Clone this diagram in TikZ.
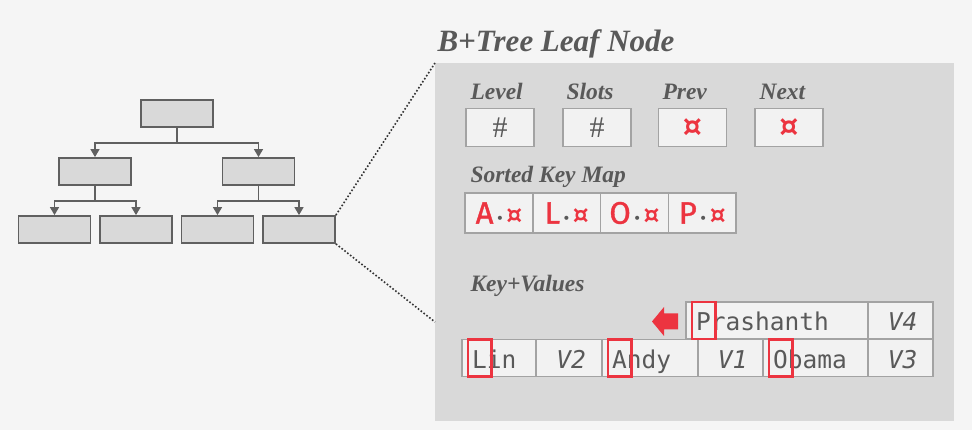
\documentclass[tikz,border=0pt]{standalone}
\usepackage{fontspec}
\setmainfont{Liberation Serif}
\setmonofont{DejaVu Sans Mono}
\newfontfamily\mapfont{DejaVu Sans}
\newfontfamily\keyfont[FakeBold=1.2]{Fira Sans}
\usepackage{xcolor}
\usetikzlibrary{arrows.meta,positioning}

\definecolor{bggray}{HTML}{F5F5F5}
\definecolor{panelgray}{HTML}{D9D9D9}
\definecolor{treegray}{HTML}{606060}
\definecolor{cellfill}{HTML}{F2F2F2}
\definecolor{cellborder}{HTML}{A3A3A3}
\definecolor{textgray}{HTML}{595959}
\definecolor{keyred}{HTML}{EC3440}

\tikzset{
  treebox/.style={draw=treegray,fill=panelgray,line width=1.8pt,
    minimum width=72pt,minimum height=27pt,inner sep=0pt},
  treeline/.style={draw=treegray,line width=1.5pt,
    -{Triangle[width=9pt,length=8pt]}},
  zoomline/.style={draw=black!80,line width=1.6pt,dotted},
  hdrlabel/.style={anchor=base west,text=textgray,
    font=\fontsize{23.5}{24}\selectfont\bfseries\itshape},
  hdrbox/.style={draw=cellborder,fill=cellfill,line width=1.8pt,
    minimum width=68pt,minimum height=38pt,inner sep=0pt},
  mapcell/.style={draw=cellborder,fill=cellfill,line width=1.6pt,
    minimum width=67.75pt,minimum height=40pt,inner sep=0pt,outer sep=0pt},
  kvcell/.style={draw=cellborder,fill=cellfill,line width=1.6pt,
    minimum height=37pt,inner ysep=0pt,outer sep=0pt,
    text height=20pt,text depth=0pt,text=textgray,
    font=\ttfamily\fontsize{24.5}{25}\selectfont},
  keycell/.style={kvcell,inner xsep=10pt,text width=#1-20pt,align=left},
  valcell/.style={kvcell,inner sep=0pt,minimum width=#1,
    font=\ttfamily\itshape\fontsize{24.5}{25}\selectfont},
  hlbox/.style={draw=keyred,line width=2.4pt},
}

\newcommand\ptrmark[1]{{\mapfont\bfseries\color{keyred}\fontsize{#1}{#1}\selectfont ¤}}
\newcommand\mapentry[1]{{\keyfont\color{keyred}\fontsize{31}{31}\selectfont #1}%
  {\mapfont\color{textgray}\fontsize{14}{14}\selectfont\,•\,}%
  \ptrmark{25}}

\begin{document}
\begin{tikzpicture}[x=1pt,y=-1pt]
  \useasboundingbox (0,0) rectangle (972,430);
  \fill[bggray] (0,0) rectangle (972,430);

  % small tree on the left
  \node[treebox] (root) at (177,113.5) {};
  \node[treebox] (midL) at (95,171.5) {};
  \node[treebox] (midR) at (258.5,171.5) {};
  \node[treebox] (leafA) at (54.5,229.5) {};
  \node[treebox] (leafB) at (136,229.5) {};
  \node[treebox] (leafC) at (217.5,229.5) {};
  \node[treebox] (leafD) at (299,229.5) {};

  \draw[treeline] (root.south) -- ++(0,15) -| (midL.north);
  \draw[treeline] (root.south) -- ++(0,15) -| (midR.north);
  \draw[treeline] (midL.south) -- ++(0,15) -| (leafA.north);
  \draw[treeline] (midL.south) -- ++(0,15) -| (leafB.north);
  \draw[treeline] (midR.south) -- ++(0,15) -| (leafC.north);
  \draw[treeline] (midR.south) -- ++(0,15) -| (leafD.north);

  % zoomed leaf node
  \node[fill=panelgray,inner sep=0pt,anchor=north west,
    minimum width=519pt,minimum height=358pt] (panel) at (435,63) {};
  \coordinate (zoomlow) at (435,322);
  \draw[zoomline] (leafD.north east) -- (panel.north west);
  \draw[zoomline] (leafD.south east) -- (zoomlow);

  \node[anchor=base west,text=textgray,
    font=\fontsize{31}{32}\selectfont\bfseries\itshape] (title) at (434,52)
    {B+Tree Leaf Node};

  % header
  \node[hdrlabel] (lLevel) at (467,100) {Level};
  \node[hdrlabel] (lSlots) at (563,100) {Slots};
  \node[hdrlabel] (lPrev) at (659,100) {Prev};
  \node[hdrlabel] (lNext) at (756,100) {Next};

  \node[hdrbox] (bLevel) at (500,127.5)
    {\color{textgray}\fontsize{30}{30}\selectfont\#};
  \node[hdrbox] (bSlots) at (597,127.5)
    {\color{textgray}\fontsize{30}{30}\selectfont\#};
  \node[hdrbox] (bPrev) at (692.5,127.5) {\ptrmark{30}};
  \node[hdrbox] (bNext) at (789,127.5) {\ptrmark{30}};

  % sorted key map
  \node[hdrlabel] (lMap) at (467,183) {Sorted Key Map};
  \node[mapcell] (mA) at (499,213) {\mapentry{A}};
  \node[mapcell,right=0pt of mA] (mL) {\mapentry{L}};
  \node[mapcell,right=0pt of mL] (mO) {\mapentry{O}};
  \node[mapcell,right=0pt of mO] (mP) {\mapentry{P}};

  % key+values
  \node[hdrlabel] (lKV) at (467,292) {Key+Values};

  \node[keycell=74pt,anchor=west] (kLin) at (462,358) {Lin};
  \node[valcell=66pt,right=0pt of kLin] (vTwo) {\,V2};
  \node[keycell=96pt,right=0pt of vTwo] (kAndy) {Andy};
  \node[valcell=65pt,right=0pt of kAndy] (vOne) {\,V1};
  \node[keycell=105pt,right=0pt of vOne] (kObama) {Obama};
  \node[valcell=65pt,right=0pt of kObama] (vThree) {\,V3};

  \node[keycell=182pt,anchor=west] (kPrash) at (686,320.5) {Prashanth};
  \node[valcell=65pt,right=0pt of kPrash] (vFour) {\,V4};

  \draw[hlbox] ([xshift=6pt]kLin.north west) rectangle ([xshift=29.5pt]kLin.south west);
  \draw[hlbox] ([xshift=6pt]kAndy.north west) rectangle ([xshift=29.5pt]kAndy.south west);
  \draw[hlbox] ([xshift=6pt]kObama.north west) rectangle ([xshift=29.5pt]kObama.south west);
  \draw[hlbox] ([xshift=6pt]kPrash.north west) rectangle ([xshift=29.5pt]kPrash.south west);

  % new entry moves left
  \fill[keyred] (652,321.5) -- (664,307) -- (664,313.5) -- (678,313.5)
    -- (678,329.5) -- (664,329.5) -- (664,336) -- cycle;

\end{tikzpicture}
\end{document}
